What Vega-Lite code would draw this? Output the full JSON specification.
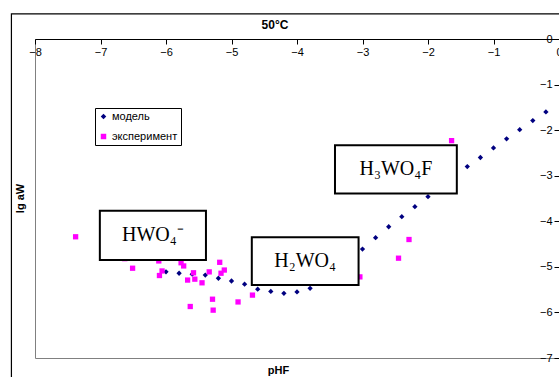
{
  "$schema": "https://vega.github.io/schema/vega-lite/v6.json",
  "autosize": "none",
  "width": 524,
  "height": 319,
  "padding": {"left": 35, "top": 39, "right": 0, "bottom": 19},
  "background": "white",
  "config": {
    "view": {"stroke": "#808080", "strokeWidth": 1},
    "font": "Liberation Sans"
  },
  "title": {
    "text": "50°C",
    "font": "Liberation Sans",
    "fontSize": 12,
    "fontWeight": "bold",
    "color": "black",
    "dx": -22,
    "offset": -19
  },
  "datasets": {
    "points": [
      {"series": "модель", "pHF": -6.0, "lgaW": -5.11},
      {"series": "модель", "pHF": -5.8, "lgaW": -5.14},
      {"series": "модель", "pHF": -5.6, "lgaW": -5.16},
      {"series": "модель", "pHF": -5.4, "lgaW": -5.18},
      {"series": "модель", "pHF": -5.2, "lgaW": -5.25},
      {"series": "модель", "pHF": -5.0, "lgaW": -5.31},
      {"series": "модель", "pHF": -4.8, "lgaW": -5.38},
      {"series": "модель", "pHF": -4.6, "lgaW": -5.49},
      {"series": "модель", "pHF": -4.4, "lgaW": -5.54},
      {"series": "модель", "pHF": -4.2, "lgaW": -5.58},
      {"series": "модель", "pHF": -4.0, "lgaW": -5.55},
      {"series": "модель", "pHF": -3.8, "lgaW": -5.47},
      {"series": "модель", "pHF": -3.6, "lgaW": -5.33},
      {"series": "модель", "pHF": -3.4, "lgaW": -5.12},
      {"series": "модель", "pHF": -3.2, "lgaW": -4.88},
      {"series": "модель", "pHF": -3.0, "lgaW": -4.61},
      {"series": "модель", "pHF": -2.8, "lgaW": -4.36},
      {"series": "модель", "pHF": -2.6, "lgaW": -4.12},
      {"series": "модель", "pHF": -2.4, "lgaW": -3.90},
      {"series": "модель", "pHF": -2.2, "lgaW": -3.68},
      {"series": "модель", "pHF": -2.0, "lgaW": -3.46},
      {"series": "модель", "pHF": -1.8, "lgaW": -3.24},
      {"series": "модель", "pHF": -1.6, "lgaW": -3.02},
      {"series": "модель", "pHF": -1.4, "lgaW": -2.80},
      {"series": "модель", "pHF": -1.2, "lgaW": -2.60},
      {"series": "модель", "pHF": -1.0, "lgaW": -2.39},
      {"series": "модель", "pHF": -0.8, "lgaW": -2.19},
      {"series": "модель", "pHF": -0.6, "lgaW": -1.99},
      {"series": "модель", "pHF": -0.4, "lgaW": -1.79},
      {"series": "модель", "pHF": -0.2, "lgaW": -1.60},
      {"series": "эксперимент", "pHF": -7.38, "lgaW": -4.34},
      {"series": "эксперимент", "pHF": -6.63, "lgaW": -4.82},
      {"series": "эксперимент", "pHF": -6.51, "lgaW": -5.03},
      {"series": "эксперимент", "pHF": -6.11, "lgaW": -4.87},
      {"series": "эксперимент", "pHF": -6.06, "lgaW": -5.09},
      {"series": "эксперимент", "pHF": -6.10, "lgaW": -5.19},
      {"series": "эксперимент", "pHF": -5.77, "lgaW": -4.91},
      {"series": "эксперимент", "pHF": -5.73, "lgaW": -4.98},
      {"series": "эксперимент", "pHF": -5.67, "lgaW": -5.29},
      {"series": "эксперимент", "pHF": -5.58, "lgaW": -5.13},
      {"series": "эксперимент", "pHF": -5.56, "lgaW": -5.27},
      {"series": "эксперимент", "pHF": -5.45, "lgaW": -5.35},
      {"series": "эксперимент", "pHF": -5.34, "lgaW": -5.11},
      {"series": "эксперимент", "pHF": -5.18, "lgaW": -4.90},
      {"series": "эксперимент", "pHF": -5.11, "lgaW": -5.07},
      {"series": "эксперимент", "pHF": -5.16, "lgaW": -5.14},
      {"series": "эксперимент", "pHF": -5.63, "lgaW": -5.87},
      {"series": "эксперимент", "pHF": -5.29, "lgaW": -5.71},
      {"series": "эксперимент", "pHF": -5.28, "lgaW": -5.95},
      {"series": "эксперимент", "pHF": -4.90, "lgaW": -5.77},
      {"series": "эксперимент", "pHF": -4.68, "lgaW": -5.62},
      {"series": "эксперимент", "pHF": -3.04, "lgaW": -5.22},
      {"series": "эксперимент", "pHF": -2.29, "lgaW": -4.40},
      {"series": "эксперимент", "pHF": -2.45, "lgaW": -4.81},
      {"series": "эксперимент", "pHF": -1.64, "lgaW": -2.23}
    ],
    "boxes": [
      {"label": "HWO₄⁻", "x1": -7.01, "x2": -5.39, "y1": -3.77, "y2": -4.85, "cx": -6.2, "cy": -4.31},
      {"label": "H₂WO₄", "x1": -4.69, "x2": -3.06, "y1": -4.35, "y2": -5.40, "cx": -3.875, "cy": -4.875},
      {"label": "H₃WO₄F", "x1": -3.42, "x2": -1.56, "y1": -2.33, "y2": -3.39, "cx": -2.49, "cy": -2.86}
    ],
    "frame": [
      {"x1": -8.36, "x2": 0.6, "y1": 0.55, "y2": -7.6}
    ]
  },
  "layer": [
    {
      "data": {"name": "frame"},
      "mark": {"type": "rect", "fill": null, "fillOpacity": 0, "stroke": "black", "strokeWidth": 1.2, "clip": false},
      "encoding": {
        "x": {
          "field": "x1", "type": "quantitative",
          "scale": {"domain": [-8, 0], "nice": false, "zero": false},
          "axis": {
            "orient": "bottom", "offset": -319,
            "values": [-8, -7, -6, -5, -4, -3, -2, -1, 0], "format": "d",
            "grid": false, "domainColor": "black", "domainWidth": 1,
            "tickColor": "black", "tickSize": 5,
            "labelFont": "Liberation Sans", "labelFontSize": 11, "labelColor": "black", "labelPadding": 2,
            "labelFlush": false, "labelOverlap": false,
            "title": "pHF", "titleFont": "Liberation Sans", "titleFontSize": 11, "titleFontWeight": "bold", "titleColor": "black",
            "titleX": 243, "titleY": 325, "titleBaseline": "top", "titleAlign": "center"
          }
        },
        "x2": {"field": "x2"},
        "y": {
          "field": "y1", "type": "quantitative",
          "scale": {"domain": [-7, 0], "nice": false, "zero": false},
          "axis": {
            "orient": "left", "offset": -524,
            "values": [-7, -6, -5, -4, -3, -2, -1, 0], "format": "d",
            "grid": false, "domainColor": "black", "domainWidth": 1,
            "tickColor": "black", "tickSize": 5,
            "labelFont": "Liberation Sans", "labelFontSize": 11, "labelColor": "black", "labelPadding": 2,
            "labelFlush": false, "labelOverlap": false,
            "title": "lg aW", "titleFont": "Liberation Sans", "titleFontSize": 11, "titleFontWeight": "bold", "titleColor": "black",
            "titleX": -539, "titleY": 159, "titleBaseline": "middle", "titleAlign": "center", "titleAngle": -90
          }
        },
        "y2": {"field": "y2"}
      }
    },
    {
      "data": {"name": "points"},
      "mark": {"type": "point", "filled": true, "size": 28, "opacity": 1},
      "encoding": {
        "x": {"field": "pHF", "type": "quantitative"},
        "y": {"field": "lgaW", "type": "quantitative"},
        "color": {
          "field": "series", "type": "nominal",
          "scale": {"domain": ["модель", "эксперимент"], "range": ["#000080", "#FF00FF"]},
          "legend": {
            "orient": "none", "legendX": 60, "legendY": 69,
            "title": null, "strokeColor": "black", "fillColor": "white", "padding": 3,
            "labelFont": "Liberation Sans", "labelFontSize": 11, "labelColor": "black",
            "symbolSize": 30, "rowPadding": 8, "labelOffset": 3, "symbolOpacity": 1
          }
        },
        "shape": {
          "field": "series", "type": "nominal",
          "scale": {"domain": ["модель", "эксперимент"], "range": ["diamond", "square"]},
          "legend": null
        }
      }
    },
    {
      "data": {"name": "boxes"},
      "mark": {"type": "rect", "fill": "white", "stroke": "black", "strokeWidth": 2},
      "encoding": {
        "x": {"field": "x1", "type": "quantitative"},
        "x2": {"field": "x2"},
        "y": {"field": "y1", "type": "quantitative"},
        "y2": {"field": "y2"}
      }
    },
    {
      "data": {"name": "boxes"},
      "mark": {"type": "text", "font": "Liberation Serif", "fontSize": 20, "color": "black", "baseline": "middle", "align": "center"},
      "encoding": {
        "x": {"field": "cx", "type": "quantitative"},
        "y": {"field": "cy", "type": "quantitative"},
        "text": {"field": "label"}
      }
    }
  ]
}
